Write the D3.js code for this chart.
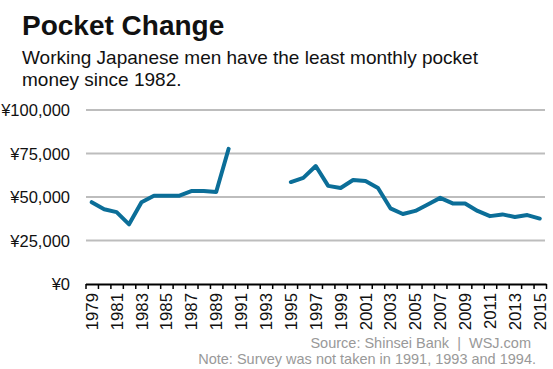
<!DOCTYPE html>
<html><head><meta charset="utf-8">
<script src="https://cdn.jsdelivr.net/npm/d3@7"></script>
<style>body{margin:0;background:#fff}svg{display:block;font-family:"Liberation Sans",Arial,sans-serif}</style>
</head><body><svg id="c" width="553" height="369"></svg>
<script>
const years = d3.range(1979, 2016);
const values = [47000,43000,41300,34300,47000,50700,50700,50700,53400,53500,52900,77700,
  null,null,null,null,
  58600,61000,67800,56400,55200,59800,59200,55200,43500,40200,42000,45700,49500,46300,46300,42000,39000,40000,38500,39600,37600];
const yTicks = [0,25000,50000,75000,100000];
const xLabels = d3.range(1979, 2016, 2);

const svg = d3.select("#c");
const x = d3.scaleLinear().domain([1978.5, 2015.5]).range([85.5, 546]);
const y = d3.scaleLinear().domain([0, 100000]).range([284, 110]);

svg.append("text").attr("x",22).attr("y",35).attr("font-size",28).attr("font-weight","bold").attr("fill","#111").text("Pocket Change");
svg.append("text").attr("x",22).attr("y",64).attr("font-size",19).attr("fill","#111").text("Working Japanese men have the least monthly pocket");
svg.append("text").attr("x",22).attr("y",86).attr("font-size",19).attr("fill","#111").text("money since 1982.");

// gridlines
svg.append("g").selectAll("line").data(yTicks.filter(d=>d>0)).join("line")
  .attr("x1",86).attr("x2",545).attr("y1",d=>y(d)).attr("y2",d=>y(d))
  .attr("stroke","#bdbdbd").attr("stroke-width",2);

// y labels
svg.append("g").selectAll("text").data(yTicks).join("text")
  .attr("x",70).attr("y",d=>y(d)+6).attr("text-anchor","end").attr("font-size",16.5).attr("fill","#111")
  .text(d=>"¥"+d3.format(",")(d));

// x axis ticks at boundaries
const bounds = d3.range(1978.5, 2016, 1);
const ax = svg.append("g").attr("transform","translate(0,284)")
  .call(d3.axisBottom(x).tickValues(bounds).tickFormat("").tickSize(5).tickSizeOuter(0));
ax.select(".domain").attr("stroke","#000").attr("stroke-width",2);
ax.selectAll(".tick line").attr("stroke","#000").attr("stroke-width",1.5);

// x labels
svg.append("g").selectAll("text").data(xLabels).join("text")
  .attr("transform",d=>`translate(${x(d)+6},293) rotate(-90)`)
  .attr("text-anchor","end").attr("font-size",16.8).attr("fill","#111").text(d=>d);

// line
const data = years.map((yr,i)=>({yr, v: values[i]}));
const line = d3.line().defined(d=>d.v!=null).x(d=>x(d.yr)).y(d=>y(d.v));
svg.append("path").datum(data).attr("d",line).attr("fill","none")
  .attr("stroke","#0b6e98").attr("stroke-width",4).attr("stroke-linejoin","round").attr("stroke-linecap","round");

svg.append("text").attr("x",531).attr("y",348).attr("text-anchor","end").attr("font-size",14.5).attr("fill","#999")
  .attr("xml:space","preserve").text("Source: Shinsei Bank  |  WSJ.com");
svg.append("text").attr("x",536).attr("y",364).attr("text-anchor","end").attr("font-size",14.5).attr("fill","#999")
  .text("Note: Survey was not taken in 1991, 1993 and 1994.");
</script></body></html>
